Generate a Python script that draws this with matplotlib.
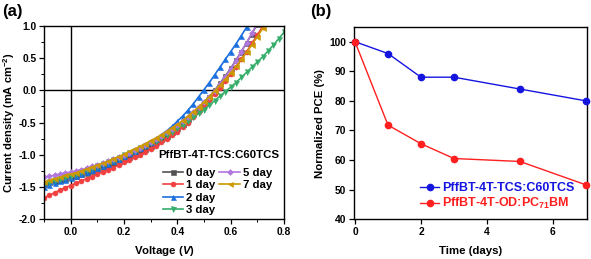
import numpy as np
import matplotlib
matplotlib.use("Agg")
import matplotlib.pyplot as plt
from matplotlib.lines import Line2D
from matplotlib.ticker import AutoMinorLocator

plt.rcParams['font.family'] = ['Liberation Sans', 'DejaVu Sans']
plt.rcParams['font.weight'] = 'bold'
plt.rcParams['axes.labelweight'] = 'bold'
plt.rcParams['axes.unicode_minus'] = False
plt.rcParams['mathtext.fontset'] = 'custom'
plt.rcParams['mathtext.rm'] = 'Liberation Sans:bold'
plt.rcParams['mathtext.it'] = 'Liberation Sans:bold:italic'

# ---- panel (a): J-V curves, V step 0.02 from -0.10 ----
volt = np.round(np.arange(-0.10, 0.801, 0.02), 2)
jv = {
    "0 day": [-1.45, -1.43, -1.41, -1.39, -1.37, -1.35, -1.33, -1.30, -1.28, -1.25,
              -1.22, -1.19, -1.16, -1.13, -1.10, -1.06, -1.03, -0.99, -0.95, -0.91,
              -0.86, -0.81, -0.76, -0.71, -0.65, -0.59, -0.52, -0.45, -0.37, -0.29,
              -0.20, -0.10, 0.00, 0.11, 0.22, 0.34, 0.47, 0.60, 0.74, 0.88, 1.03],
    "1 day": [-1.67, -1.63, -1.59, -1.55, -1.51, -1.48, -1.44, -1.41, -1.37, -1.34,
              -1.30, -1.27, -1.23, -1.20, -1.16, -1.12, -1.08, -1.04, -1.00, -0.96,
              -0.91, -0.86, -0.81, -0.76, -0.70, -0.64, -0.57, -0.50, -0.42, -0.34,
              -0.25, -0.15, -0.05, 0.04, 0.14, 0.25, 0.36, 0.48, 0.60, 0.73, 0.86,
              0.99, 1.12],
    "2 day": [-1.50, -1.47, -1.44, -1.41, -1.39, -1.36, -1.33, -1.30, -1.27, -1.24,
              -1.21, -1.17, -1.14, -1.10, -1.06, -1.02, -0.98, -0.94, -0.90, -0.85,
              -0.80, -0.75, -0.69, -0.63, -0.56, -0.48, -0.40, -0.31, -0.21, -0.10,
              0.01, 0.12, 0.24, 0.36, 0.48, 0.60, 0.72, 0.85, 0.98, 1.11],
    "3 day": [-1.45, -1.43, -1.40, -1.38, -1.35, -1.33, -1.30, -1.27, -1.24, -1.21,
              -1.18, -1.15, -1.12, -1.08, -1.05, -1.01, -0.98, -0.94, -0.90, -0.86,
              -0.82, -0.78, -0.74, -0.69, -0.64, -0.59, -0.54, -0.48, -0.42, -0.36,
              -0.30, -0.23, -0.16, -0.09, -0.02, 0.05, 0.12, 0.20, 0.28, 0.36, 0.44,
              0.52, 0.61, 0.70, 0.80, 0.90],
    "5 day": [-1.35, -1.33, -1.32, -1.30, -1.28, -1.27, -1.25, -1.23, -1.21, -1.18,
              -1.16, -1.13, -1.10, -1.07, -1.04, -1.00, -0.97, -0.93, -0.89, -0.85,
              -0.80, -0.76, -0.71, -0.65, -0.60, -0.54, -0.48, -0.41, -0.34, -0.26,
              -0.18, -0.10, -0.01, 0.10, 0.21, 0.33, 0.46, 0.60, 0.74, 0.89, 1.04],
    "7 day": [-1.42, -1.40, -1.37, -1.35, -1.32, -1.30, -1.28, -1.25, -1.22, -1.19,
              -1.16, -1.13, -1.10, -1.06, -1.03, -0.99, -0.95, -0.91, -0.87, -0.83,
              -0.78, -0.74, -0.69, -0.64, -0.58, -0.53, -0.47, -0.40, -0.33, -0.26,
              -0.18, -0.10, -0.01, 0.08, 0.17, 0.27, 0.37, 0.48, 0.59, 0.71, 0.83,
              0.96, 1.09],
}
jv_colors = {"0 day": "#515151", "1 day": "#F14040", "2 day": "#1A6FDF",
             "3 day": "#37AD6B", "5 day": "#B177DE", "7 day": "#CC9900"}
jv_markers = {"0 day": "s", "1 day": "o", "2 day": "^",
              "3 day": "v", "5 day": "D", "7 day": "<"}

# ---- panel (b): normalized PCE ----
days = [0, 1, 2, 3, 5, 7]
pce_tcs = [100, 96.0, 88.0, 88.0, 84.0, 80.0]
pce_od = [100, 71.8, 65.5, 60.5, 59.5, 51.6]

fig = plt.figure(figsize=(5.91, 2.59), dpi=100)
ax1 = fig.add_axes([0.0745, 0.154, 0.406, 0.746])
ax2 = fig.add_axes([0.599, 0.154, 0.394, 0.742])

fs = 7.4
lfs = 8.2
for name, j in jv.items():
    ax1.plot(volt[:len(j)], j, color=jv_colors[name], marker=jv_markers[name],
             ms=3.6 if jv_markers[name] != "D" else 3.0, lw=1.2, mew=0.4,
             label=name)
ax1.axhline(0, color="k", lw=1.0, zorder=0)
ax1.axvline(0, color="k", lw=1.0, zorder=0)
ax1.set_xlim(-0.1, 0.8)
ax1.set_ylim(-2.0, 1.0)
ax1.set_xticks([0.0, 0.2, 0.4, 0.6, 0.8])
ax1.set_yticks(np.arange(-2.0, 1.01, 0.5))
ax1.xaxis.set_minor_locator(AutoMinorLocator(2))
ax1.yaxis.set_minor_locator(AutoMinorLocator(2))
ax1.set_xlabel("Voltage ($\\mathit{V}$)", fontsize=8.2, labelpad=5)
ax1.set_ylabel("Current density (mA cm$^{-2}$)", fontsize=8.0, labelpad=1.5)

handles, labels = ax1.get_legend_handles_labels()
blank = Line2D([], [], color="none")
handles += [blank, blank]
labels += ["", ""]
leg = ax1.legend(handles, labels, ncol=2, loc="lower right",
                 bbox_to_anchor=(0.95, 0.02), frameon=False, fontsize=lfs,
                 handlelength=1.8, handletextpad=0.25, columnspacing=0.35,
                 labelspacing=0.22, borderpad=0.0, borderaxespad=0.0)
for t in leg.get_texts():
    t.set_fontweight("bold")
ax1.text(0.727, 0.332, "PffBT-4T-TCS:C60TCS", transform=ax1.transAxes,
         ha="center", va="center", fontsize=lfs, fontweight="bold")

ax2.plot(days, pce_tcs, color="#1515e0", marker="o", ms=4.5, lw=1.0,
         label="PffBT-4T-TCS:C60TCS", clip_on=False, zorder=3)
ax2.plot(days, pce_od, color="#ff1f1f", marker="o", ms=4.5, lw=1.0,
         label="PffBT-4T-OD:PC$_{71}$BM", clip_on=False, zorder=3)
ax2.set_xlim(-0.03, 7.03)
ax2.set_ylim(40, 105)
ax2.set_xticks([0, 2, 4, 6])
ax2.set_yticks(np.arange(40, 101, 10))
ax2.set_xlabel("Time (days)", fontsize=8.2, labelpad=7)
ax2.set_ylabel("Normalized PCE (%)", fontsize=8.2, labelpad=3)
leg2 = ax2.legend(loc="lower right", bbox_to_anchor=(0.945, 0.04),
                  frameon=False, fontsize=9,
                  handlelength=1.5, handletextpad=0.2, labelspacing=0.15,
                  borderpad=0.0, borderaxespad=0.0)
for t, c in zip(leg2.get_texts(), ["#1515e0", "#ff1f1f"]):
    t.set_color(c)
    t.set_fontweight("bold")

for ax in (ax1, ax2):
    ax.tick_params(labelsize=fs, width=0.9, length=3.5, direction="out", pad=2)
    ax.tick_params(which="minor", length=2, width=0.7)
    for s in ax.spines.values():
        s.set_linewidth(1.0)

fig.text(0.003, 0.985, "(a)", fontsize=12, fontweight="bold", va="top")
fig.text(0.525, 0.985, "(b)", fontsize=12, fontweight="bold", va="top")

fig.savefig("out.png", dpi=100)
